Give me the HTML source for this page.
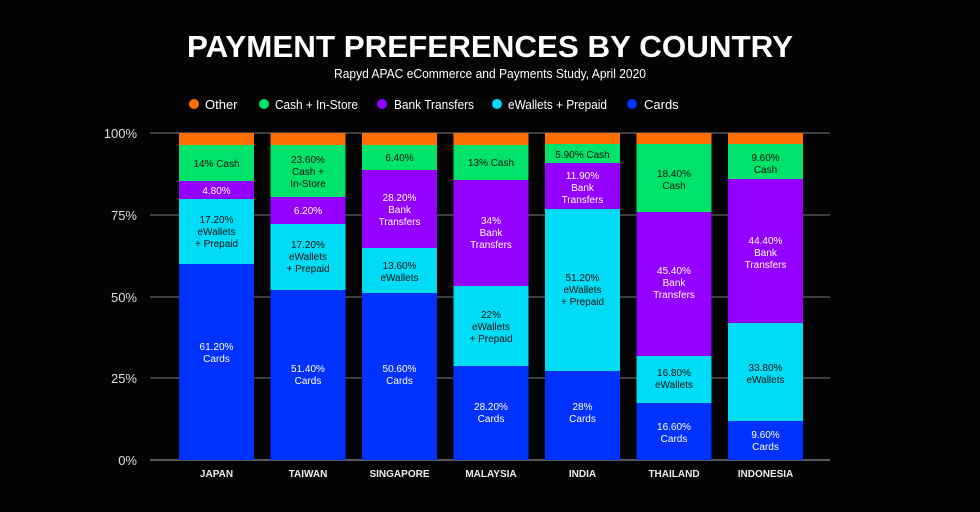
<!DOCTYPE html>
<html><head><meta charset="utf-8"><style>
html,body{margin:0;padding:0;background:#000;}
svg{display:block;}
text{font-family:"Liberation Sans",sans-serif;}
</style></head><body>
<svg width="980" height="512" viewBox="0 0 980 512" xmlns="http://www.w3.org/2000/svg">
<rect width="980" height="512" fill="#040404"/>
<text x="490" y="57" text-anchor="middle" font-size="31" font-weight="bold" fill="#fff" textLength="606" lengthAdjust="spacingAndGlyphs">PAYMENT PREFERENCES BY COUNTRY</text>
<text x="490" y="78" text-anchor="middle" font-size="13" fill="#fff" textLength="312" lengthAdjust="spacingAndGlyphs">Rapyd APAC eCommerce and Payments Study, April 2020</text>
<g font-size="13" fill="#fff">
<circle cx="194" cy="104" r="5" fill="#ff6f00"/><text x="205" y="109">Other</text>
<circle cx="264" cy="104" r="5" fill="#00e36a"/><text x="275" y="109" textLength="83" lengthAdjust="spacingAndGlyphs">Cash + In-Store</text>
<circle cx="382" cy="104" r="5" fill="#9400ff"/><text x="394" y="109" textLength="80" lengthAdjust="spacingAndGlyphs">Bank Transfers</text>
<circle cx="497" cy="104" r="5" fill="#00dcf5"/><text x="508" y="109" textLength="99" lengthAdjust="spacingAndGlyphs">eWallets + Prepaid</text>
<circle cx="632" cy="104" r="5" fill="#0032ff"/><text x="644" y="109">Cards</text>
</g>
<g stroke="#777" stroke-width="1">
<line x1="150" y1="133" x2="830" y2="133"/><line x1="150" y1="215" x2="830" y2="215"/>
<line x1="150" y1="297" x2="830" y2="297"/><line x1="150" y1="378" x2="830" y2="378"/>
<line x1="150" y1="460" x2="830" y2="460" stroke="#aaa"/>
</g>
<g font-size="13" fill="#ddd" text-anchor="end">
<text x="137" y="138">100%</text><text x="137" y="220">75%</text><text x="137" y="302">50%</text><text x="137" y="383">25%</text><text x="137" y="465">0%</text>
</g>
<!-- bars: x, boundaries -->
<g>
<!-- Japan -->
<rect x="179" y="133" width="75" height="12" fill="#ff6f00"/><rect x="179" y="145" width="75" height="36" fill="#00e36a"/><rect x="179" y="181" width="75" height="18" fill="#9400ff"/><rect x="179" y="199" width="75" height="65" fill="#00dcf5"/><rect x="179" y="264" width="75" height="196" fill="#0032ff"/>
<!-- Taiwan -->
<rect x="270.5" y="133" width="75" height="12" fill="#ff6f00"/><rect x="270.5" y="145" width="75" height="52" fill="#00e36a"/><rect x="270.5" y="197" width="75" height="27" fill="#9400ff"/><rect x="270.5" y="224" width="75" height="66" fill="#00dcf5"/><rect x="270.5" y="290" width="75" height="170" fill="#0032ff"/>
<!-- Singapore -->
<rect x="362" y="133" width="75" height="12" fill="#ff6f00"/><rect x="362" y="145" width="75" height="25" fill="#00e36a"/><rect x="362" y="170" width="75" height="78" fill="#9400ff"/><rect x="362" y="248" width="75" height="45" fill="#00dcf5"/><rect x="362" y="293" width="75" height="167" fill="#0032ff"/>
<!-- Malaysia -->
<rect x="453.5" y="133" width="75" height="12" fill="#ff6f00"/><rect x="453.5" y="145" width="75" height="35" fill="#00e36a"/><rect x="453.5" y="180" width="75" height="106" fill="#9400ff"/><rect x="453.5" y="286" width="75" height="80" fill="#00dcf5"/><rect x="453.5" y="366" width="75" height="94" fill="#0032ff"/>
<!-- India -->
<rect x="545" y="133" width="75" height="11" fill="#ff6f00"/><rect x="545" y="144" width="75" height="19" fill="#00e36a"/><rect x="545" y="163" width="75" height="46" fill="#9400ff"/><rect x="545" y="209" width="75" height="162" fill="#00dcf5"/><rect x="545" y="371" width="75" height="89" fill="#0032ff"/>
<!-- Thailand -->
<rect x="636.5" y="133" width="75" height="11" fill="#ff6f00"/><rect x="636.5" y="144" width="75" height="68" fill="#00e36a"/><rect x="636.5" y="212" width="75" height="144" fill="#9400ff"/><rect x="636.5" y="356" width="75" height="47" fill="#00dcf5"/><rect x="636.5" y="403" width="75" height="57" fill="#0032ff"/>
<!-- Indonesia -->
<rect x="728" y="133" width="75" height="11" fill="#ff6f00"/><rect x="728" y="144" width="75" height="35" fill="#00e36a"/><rect x="728" y="179" width="75" height="144" fill="#9400ff"/><rect x="728" y="323" width="75" height="98" fill="#00dcf5"/><rect x="728" y="421" width="75" height="39" fill="#0032ff"/>
</g>
<g font-size="10" text-anchor="middle">
<g fill="#111">
<text x="216.5" y="167">14% Cash</text>
<text x="216.5" y="223">17.20%</text><text x="216.5" y="235">eWallets</text><text x="216.5" y="247">+ Prepaid</text>
<text x="308" y="163">23.60%</text><text x="308" y="175">Cash +</text><text x="308" y="187">In-Store</text>
<text x="308" y="248">17.20%</text><text x="308" y="260">eWallets</text><text x="308" y="272">+ Prepaid</text>
<text x="399.5" y="161">6.40%</text>
<text x="399.5" y="269">13.60%</text><text x="399.5" y="281">eWallets</text>
<text x="491" y="166">13% Cash</text>
<text x="491" y="318">22%</text><text x="491" y="330">eWallets</text><text x="491" y="342">+ Prepaid</text>
<text x="582.5" y="158">5.90% Cash</text>
<text x="582.5" y="281">51.20%</text><text x="582.5" y="293">eWallets</text><text x="582.5" y="305">+ Prepaid</text>
<text x="674" y="177">18.40%</text><text x="674" y="189">Cash</text>
<text x="674" y="376">16.80%</text><text x="674" y="388">eWallets</text>
<text x="765.5" y="161">9.60%</text><text x="765.5" y="173">Cash</text>
<text x="765.5" y="371">33.80%</text><text x="765.5" y="383">eWallets</text>
</g>
<g fill="#fff">
<text x="216.5" y="194">4.80%</text>
<text x="216.5" y="350">61.20%</text><text x="216.5" y="362">Cards</text>
<text x="308" y="214">6.20%</text>
<text x="308" y="372">51.40%</text><text x="308" y="384">Cards</text>
<text x="399.5" y="201">28.20%</text><text x="399.5" y="213">Bank</text><text x="399.5" y="225">Transfers</text>
<text x="399.5" y="372">50.60%</text><text x="399.5" y="384">Cards</text>
<text x="491" y="224">34%</text><text x="491" y="236">Bank</text><text x="491" y="248">Transfers</text>
<text x="491" y="410">28.20%</text><text x="491" y="422">Cards</text>
<text x="582.5" y="179">11.90%</text><text x="582.5" y="191">Bank</text><text x="582.5" y="203">Transfers</text>
<text x="582.5" y="410">28%</text><text x="582.5" y="422">Cards</text>
<text x="674" y="274">45.40%</text><text x="674" y="286">Bank</text><text x="674" y="298">Transfers</text>
<text x="674" y="430">16.60%</text><text x="674" y="442">Cards</text>
<text x="765.5" y="244">44.40%</text><text x="765.5" y="256">Bank</text><text x="765.5" y="268">Transfers</text>
<text x="765.5" y="438">9.60%</text><text x="765.5" y="450">Cards</text>
</g>
</g>
<g font-size="10" font-weight="bold" fill="#eee" text-anchor="middle">
<text x="216.5" y="477">JAPAN</text><text x="308" y="477">TAIWAN</text><text x="399.5" y="477">SINGAPORE</text><text x="491" y="477">MALAYSIA</text><text x="582.5" y="477">INDIA</text><text x="674" y="477">THAILAND</text><text x="765.5" y="477">INDONESIA</text>
</g>
</svg>
</body></html>
